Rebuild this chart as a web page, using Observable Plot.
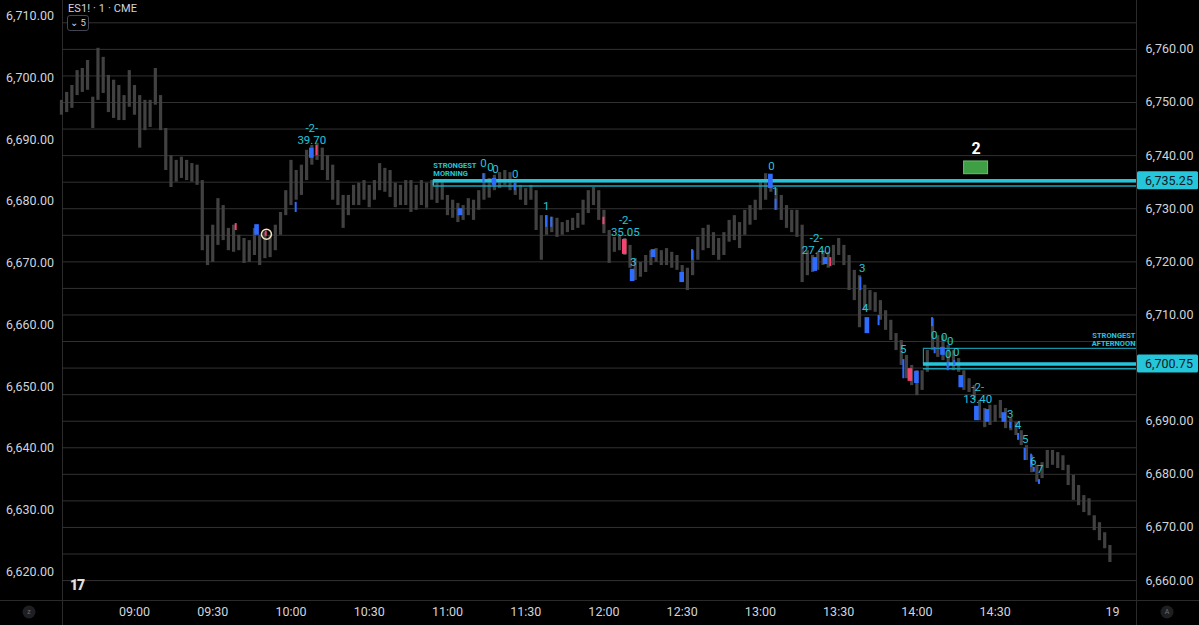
<!DOCTYPE html>
<html><head><meta charset="utf-8">
<script src="https://cdn.jsdelivr.net/npm/d3@7"></script>
<script src="https://cdn.jsdelivr.net/npm/@observablehq/plot@0.6"></script>
<style>
html,body{margin:0;padding:0;background:#000;width:1199px;height:625px;overflow:hidden}
#wrap{position:relative;width:1199px;height:625px;font-family:Roboto,"Noto Sans",sans-serif}
#wrap svg{position:absolute;left:0;top:0}
.title{position:absolute;left:68px;top:2px;font-size:11px;color:#d1d4dc;letter-spacing:0.1px}
.tf{position:absolute;left:67px;top:15px;width:20px;height:14px;border:1px solid #434651;border-radius:3px;font-size:9.5px;color:#d1d4dc;text-align:center;line-height:14px;background:#000}
.logo{position:absolute;left:70px;top:577px;font-size:14px;font-weight:900;color:#e0e0e0;letter-spacing:-1px}
</style></head><body><div id="wrap"></div>
<script>
// ---- Data ----
const symbolTitle = "ES1! · 1 · CME";
const barStart = 512;   // minutes after midnight of the first 2-minute bar (08:32)
const barStep = 2;
const barLow = [6747.6,6748.1,6748.9,6751.3,6751.9,6752.3,6745.1,6750.4,6751.7,6748.1,6747.0,6746.6,6746.6,6749.1,6747.6,6741.4,6744.7,6745.3,6749.5,6744.7,
6737.2,6734.0,6735.0,6735.7,6735.3,6735.0,6734.4,6722.1,6719.3,6719.9,6723.1,6724.0,6722.1,6721.8,6722.1,6719.7,6719.9,6721.2,6719.3,6720.6,
6720.8,6722.1,6725.0,6728.7,6730.6,6731.6,6732.5,6735.3,6738.2,6739.1,6737.2,6735.3,6731.6,6730.6,6726.3,6728.7,6730.6,6730.6,6731.6,6730.2,
6731.6,6733.4,6733.1,6732.1,6730.2,6730.6,6730.6,6729.3,6729.7,6730.6,6730.1,6731.6,6731.0,6731.6,6728.7,6728.2,6727.4,6727.8,6728.7,6727.8,
6729.7,6731.6,6732.0,6733.4,6733.8,6734.4,6733.4,6732.5,6731.6,6730.6,6731.6,6725.9,6720.3,6725.0,6725.5,6724.6,6725.0,6725.5,6725.9,6726.3,
6726.9,6729.1,6730.6,6727.8,6725.3,6719.7,6721.8,6722.1,6721.2,6718.8,6716.5,6717.1,6718.0,6719.3,6719.9,6719.3,6719.3,6718.8,6718.4,6716.1,
6714.6,6717.4,6720.3,6722.1,6722.5,6721.2,6720.3,6721.2,6723.7,6724.0,6722.5,6725.0,6726.9,6727.8,6729.7,6731.6,6733.1,6729.7,6727.8,6726.3,
6725.5,6724.6,6716.1,6717.4,6718.0,6718.4,6719.3,6718.8,6719.3,6721.2,6719.3,6714.6,6712.7,6707.6,6710.8,6710.8,6710.5,6709.0,6707.1,6705.2,
6703.3,6700.5,6698.0,6696.7,6694.8,6695.8,6699.2,6703.3,6702.0,6701.4,6700.1,6699.5,6699.2,6695.8,6695.4,6693.9,6690.1,6688.8,6689.2,6689.8,
6690.5,6688.6,6688.2,6687.3,6685.4,6682.6,6680.3,6678.5,6679.2,6681.1,6681.7,6681.1,6680.7,6677.9,6675.1,6674.1,6672.8,6672.2,6669.4,6667.5,
6666.0,6663.4];
const barHigh = [6750.4,6751.9,6753.2,6756.0,6756.4,6757.9,6751.0,6760.2,6758.5,6755.1,6754.2,6753.2,6751.3,6756.0,6753.2,6751.3,6750.4,6750.4,6756.4,6751.3,
6745.1,6740.0,6739.1,6739.7,6739.1,6738.5,6738.2,6735.3,6725.0,6726.9,6731.9,6730.6,6726.3,6726.9,6725.0,6724.4,6724.0,6726.3,6725.0,6725.5,
6725.0,6726.9,6729.3,6733.4,6739.1,6737.2,6738.2,6741.0,6741.9,6742.3,6741.4,6740.0,6738.2,6735.3,6732.5,6732.5,6734.4,6734.8,6735.3,6734.4,
6735.3,6738.5,6737.6,6737.2,6734.8,6734.4,6735.3,6735.3,6734.4,6735.3,6734.8,6735.3,6735.0,6735.3,6732.5,6731.6,6731.0,6730.6,6731.9,6731.6,
6733.4,6736.6,6735.7,6736.3,6736.8,6737.2,6736.8,6735.3,6734.4,6733.8,6734.4,6733.4,6728.7,6728.7,6728.4,6728.2,6727.4,6727.8,6728.2,6729.1,
6731.6,6733.4,6734.0,6733.4,6729.7,6725.9,6724.6,6725.0,6724.4,6723.1,6720.6,6719.9,6721.2,6722.1,6722.5,6722.1,6722.5,6721.8,6721.2,6719.3,
6718.8,6722.1,6724.6,6726.3,6726.9,6725.5,6724.4,6725.5,6727.8,6728.7,6727.4,6729.7,6730.6,6731.6,6735.3,6736.6,6736.3,6733.8,6732.5,6730.6,
6729.7,6729.7,6726.9,6722.1,6721.2,6721.8,6722.1,6721.8,6723.1,6724.4,6723.1,6721.2,6718.4,6717.4,6715.6,6714.6,6714.2,6712.7,6710.8,6709.0,
6706.5,6705.2,6702.4,6700.5,6699.5,6699.5,6703.3,6709.3,6706.1,6706.1,6704.3,6703.3,6701.8,6699.5,6698.0,6696.7,6693.9,6692.4,6693.0,6693.0,
6693.9,6692.4,6690.5,6689.8,6688.2,6685.4,6683.5,6681.7,6682.2,6684.5,6684.5,6684.1,6683.5,6681.7,6679.8,6677.9,6676.0,6675.4,6672.2,6670.9,
6669.0,6666.6];

// signal candles: [centre minute, duration in minutes, body low, body high]
const blueCandles = [[587,2,6725.0,6727.0],[602,1,6729.3,6731.2],[608,2,6739.5,6741.4],[665,2,6728.7,6730.0],[674,1,6734.8,6736.6],
[678,2,6734.4,6735.7],[686,1,6733.4,6734.8],[698,1,6726.5,6728.7],[700,1,6726.5,6728.4],[731,2,6716.3,6718.6],[739,2,6720.8,6722.3],
[750,2,6716.1,6718.0],[754,1,6720.3,6722.3],[784,2,6733.8,6736.5],[786,1,6729.7,6731.8],[801,2,6718.2,6720.8],[805,2,6719.5,6720.8],
[818.5,1,6714.6,6717.1],[821,2,6706.5,6709.5],[825.5,1,6708.0,6709.9],[835,1,6698.0,6701.6],[840,2,6697.1,6699.4],[846,1,6707.8,6709.5],
[847,1,6702.7,6703.9],[850,2,6702.4,6703.9],[852,1,6699.5,6701.1],[854.5,1,6700.5,6701.4],[857,2,6696.3,6698.6],[863,2,6690.1,6692.8],
[867,2,6689.8,6692.2],[873.5,2,6689.8,6691.6],[876,1,6688.6,6689.8],[879,1,6686.4,6687.7],[881.5,1,6682.6,6684.9],[884,1,6681.3,6683.8],
[885,1,6680.4,6681.3],[887,1,6678.1,6679.0]];
const pinkCandles = [[579,1,6725.9,6727.2],[590.5,1,6724.8,6725.8],[610,1,6740.0,6741.9],[720,1,6727.0,6728.4],[728,2,6721.4,6724.2],
[807,1,6719.1,6720.8],[837.5,2,6697.5,6699.9]];
const markerPoint = [[590.6,6725.2]];

// signal labels: [minute, price of text centre, text]
const signalLabels = [[608,6744.0,"-2-\n39.70"],[673.8,6738.5,"0"],[676.5,6737.8,"0"],[678.4,6737.4,"0"],[686,6736.5,"0"],
[697.9,6730.4,"1"],[728.2,6726.8,"-2-\n35.05"],[731.3,6719.9,"3"],[784.2,6738.0,"0"],[785.7,6733.4,"1"],
[801.4,6723.4,"-2-\n27.40"],[819,6718.8,"3"],[820.2,6711.2,"4"],[834.8,6703.5,"5"],[846.6,6706.3,"0"],[850.5,6705.8,"0"],
[852.8,6705.0,"0"],[852,6702.6,"0"],[855.1,6703.1,"0"],[863.3,6695.3,"-2-\n13.40"],[875.8,6691.4,"3"],[878.8,6689.2,"4"],
[881.5,6686.7,"5"],[884.6,6682.4,"6"],[887.3,6680.9,"7"]];

// strongest zones
const morningZone = {start: 654.6, level: 6735.25, inner: 6734.3, label: "STRONGEST\nMORNING", labelPrice: 6736.2};
const afternoonZone = {start: 842.5, level: 6700.75, inner: 6699.9, top: 6703.7, label: "STRONGEST\nAFTERNOON", labelPrice: 6704.2};
const targetBox = {t1: 858.1, t2: 867.3, lo: 6736.5, hi: 6738.9, label: "2", labelPrice: 6741.3};

const gridLevels = d3.range(6660, 6766, 5);
const rightTicks = [6660,6670,6680,6690,6710,6720,6730,6740,6750,6760];
const leftTicks = [6620,6630,6640,6650,6660,6670,6680,6690,6700,6710];
const xTickTimes = [540,570,600,630,660,690,720,750,780,810,840,870,915];
const xTickLabels = ["09:00","09:30","10:00","10:30","11:00","11:30","12:00","12:30","13:00","13:30","14:00","14:30","19"];
const priceTags = [6735.25, 6700.75];

// ---- Build ----
const W = 1199, H = 625;
const M = {top: 0, right: 63, bottom: 25, left: 62};
const bars = barLow.map((lo, i) => ({t: barStart + barStep * i, lo, hi: barHigh[i]}));
const toSig = a => a.map(([t, d, lo, hi]) => ({t, d, lo, hi}));
const blue = toSig(blueCandles), pink = toSig(pinkCandles);
const labels = signalLabels.map(([t, p, s]) => ({t, p, s}));
const xLab = new Map(xTickTimes.map((t, i) => [t, xTickLabels[i]]));
const fmt = d3.format(",.2f");
const CY = "#22c5dc";
const FONT = "Roboto, 'Noto Sans', sans-serif";
const xEnd = 924.2;

const plot = Plot.plot({
  width: W, height: H,
  marginTop: M.top, marginRight: M.right, marginBottom: M.bottom, marginLeft: M.left,
  style: {background: "transparent", color: "#d1d4dc", fontFamily: FONT, fontSize: "12.5px", overflow: "visible"},
  x: {domain: [512.4, xEnd]},
  y: {domain: [6656.25, 6769.2]},
  marks: [
    Plot.ruleY(gridLevels, {stroke: "#323232", strokeWidth: 1}),
    // gray candles
    Plot.ruleX(bars, {x: "t", y1: "lo", y2: "hi", stroke: "#414141", strokeWidth: 3.2}),
    // strongest morning
    Plot.ruleY([morningZone], {y: "level", x1: "start", x2: xEnd, stroke: CY, strokeWidth: 3.5}),
    Plot.ruleY([morningZone], {y: "inner", x1: "start", x2: xEnd, stroke: "#1aa3b6", strokeWidth: 1.5}),
    Plot.ruleX([morningZone], {x: "start", y1: "inner", y2: "level", stroke: CY, strokeWidth: 1.5}),
    Plot.text([morningZone], {x: "start", y: "labelPrice", text: "label", textAnchor: "start", lineAnchor: "bottom",
      fill: CY, fontSize: 7.5, fontWeight: "bold", lineHeight: 1.05}),
    // strongest afternoon
    Plot.ruleY([afternoonZone], {y: "top", x1: "start", x2: xEnd, stroke: "#1592a3", strokeWidth: 1.2}),
    Plot.ruleX([afternoonZone], {x: "start", y1: "level", y2: "top", stroke: "#1592a3", strokeWidth: 1.2}),
    Plot.ruleY([afternoonZone], {y: "level", x1: "start", x2: xEnd, stroke: CY, strokeWidth: 3.5}),
    Plot.ruleY([afternoonZone], {y: "inner", x1: "start", x2: xEnd, stroke: "#1aa3b6", strokeWidth: 1.5}),
    Plot.text([afternoonZone], {x: xEnd, y: "labelPrice", text: "label", textAnchor: "end", lineAnchor: "bottom",
      dx: -1, fill: CY, fontSize: 7.5, fontWeight: "bold", lineHeight: 1.05}),
    // signal candles
    Plot.rect(blue, {x1: d => d.t - d.d / 2, x2: d => d.t + d.d / 2, y1: "lo", y2: "hi", fill: "#2e6bff", insetLeft: 0.3, insetRight: 0.3}),
    Plot.rect(pink, {x1: d => d.t - d.d / 2, x2: d => d.t + d.d / 2, y1: "lo", y2: "hi", fill: "#f2456f", insetLeft: 0.3, insetRight: 0.3}),
    Plot.dot(markerPoint, {x: d => d[0], y: d => d[1], r: 5, stroke: "#f1e2c2", strokeWidth: 1.6, fill: "none"}),
    // signal labels
    Plot.text(labels, {x: "t", y: "p", text: "s", fill: CY, fontSize: 11.5, fontFamily: FONT, lineHeight: 1.05}),
    // green target box
    Plot.rect([targetBox], {x1: "t1", x2: "t2", y1: "lo", y2: "hi", fill: "#3f9f45", stroke: "#6cc070", strokeWidth: 1}),
    Plot.text([targetBox], {x: d => (d.t1 + d.t2) / 2, y: "labelPrice", text: "label", fill: "#ffffff", fontSize: 16, fontWeight: "bold"}),
    // axes
    Plot.axisY(rightTicks, {anchor: "right", tickSize: 0, tickPadding: 9, tickFormat: fmt, fill: "#d1d4dc", fontSize: 12.5}),
    Plot.axisX(xTickTimes, {tickSize: 0, tickPadding: 7, tickFormat: d => xLab.get(d), fill: "#d1d4dc", fontSize: 12.5})
  ]
});

// second price scale on the left
const leftPlot = Plot.plot({
  width: W, height: H,
  marginTop: M.top, marginRight: M.right, marginBottom: M.bottom, marginLeft: M.left,
  style: {background: "transparent", color: "#d1d4dc", fontFamily: FONT, fontSize: "12.5px"},
  y: {domain: [6615.38, 6712.54]},
  marks: [Plot.axisY(leftTicks, {anchor: "left", tickSize: 0, tickPadding: 8.5, tickFormat: fmt, fill: "#d1d4dc", fontSize: 12.5})]
});
leftPlot.style.pointerEvents = "none";

const wrap = document.getElementById("wrap");
wrap.appendChild(plot);
wrap.appendChild(leftPlot);

// chart frame lines and price tags
const svg = d3.select(plot);
const ys = plot.scale("y");
const frame = svg.insert("g", ":first-child");
frame.append("line").attr("x1", 0).attr("x2", W).attr("y1", H - M.bottom + 0.5).attr("y2", H - M.bottom + 0.5).attr("stroke", "#2a2a2a");
frame.append("line").attr("x1", M.left + 0.5).attr("x2", M.left + 0.5).attr("y1", 0).attr("y2", H).attr("stroke", "#2a2a2a");
frame.append("line").attr("x1", W - M.right + 0.5).attr("x2", W - M.right + 0.5).attr("y1", 0).attr("y2", H).attr("stroke", "#2a2a2a");
const tags = svg.append("g").attr("text-anchor", "start");
priceTags.forEach(p => {
  const y = ys.apply(p);
  tags.append("rect").attr("x", W - M.right + 1).attr("y", y - 9).attr("width", 61).attr("height", 18).attr("rx", 1.5).attr("fill", "#26c6da");
  tags.append("text").attr("x", W - M.right + 9).attr("y", y).attr("dy", "0.35em").attr("fill", "#131722")
    .attr("text-anchor", "start").attr("font-size", 12.5).attr("font-family", FONT).text(fmt(p));
});
// corner buttons
[[29, "z"], [1167, "A"]].forEach(([cx, s]) => {
  tags.append("circle").attr("cx", cx).attr("cy", 612).attr("r", 6.5).attr("fill", "#1e1f23");
  tags.append("text").attr("x", cx).attr("y", 612).attr("dy", "0.35em").attr("text-anchor", "middle")
    .attr("fill", "#6a6d78").attr("font-size", 7).attr("font-family", FONT).text(s);
});

// header overlays
const t = document.createElement("div"); t.className = "title"; t.textContent = symbolTitle; wrap.appendChild(t);
const tf = document.createElement("div"); tf.className = "tf"; tf.textContent = "⌄ 5"; wrap.appendChild(tf);
const lg = document.createElement("div"); lg.className = "logo"; lg.textContent = "17"; wrap.appendChild(lg);
</script>
</body></html>
